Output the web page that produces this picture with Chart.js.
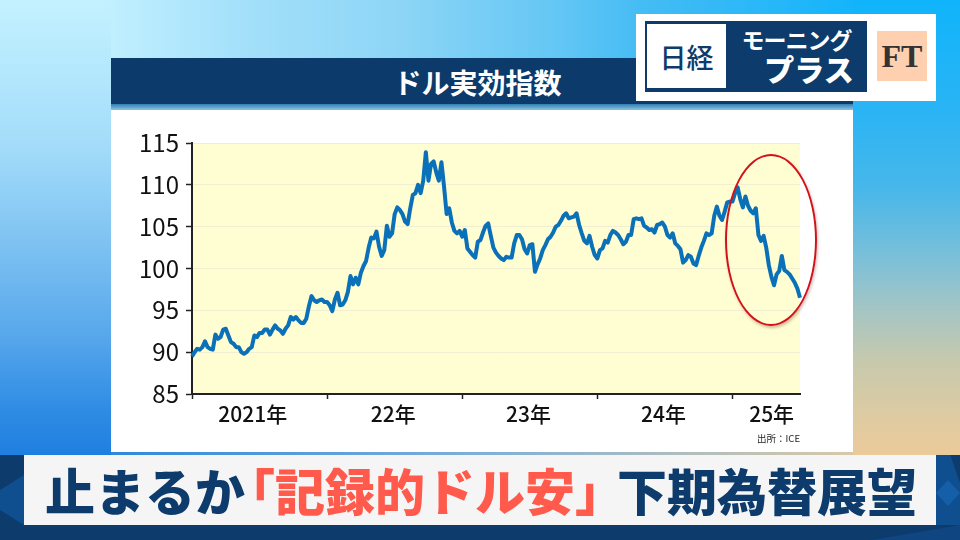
<!DOCTYPE html>
<html lang="ja"><head><meta charset="utf-8">
<script src="https://cdn.jsdelivr.net/npm/chart.js@4"></script>
<style>
html,body{margin:0;padding:0;width:960px;height:540px;overflow:hidden}
body{position:relative;font-family:"Noto Sans CJK JP",sans-serif;background:#2ab4f5}
.a{position:absolute}
#bgL{left:0;top:0;width:111px;height:456px;background:linear-gradient(180deg,#c4f1ff 0,#b4e8fd 70px,#a2dbf9 150px,#7fc3f2 240px,#5aa9ec 330px,#2f8ce4 410px,#1f7fdf 456px)}
#bgT{left:111px;top:0;width:742px;height:110px;background:linear-gradient(90deg,#c0efff 0,#a4e0fa 130px,#8dd5f6 290px,#62c6f4 450px,#45bcf4 530px,#14b4fb 742px)}
#bgR{left:853px;top:0;width:107px;height:456px;background:linear-gradient(180deg,#10b4fb 0,#2ab4f5 110px,#48b7e9 190px,#7dc0d8 260px,#a5c5c4 310px,#c6c9ad 360px,#dbcba3 410px,#ecca9a 456px)}
#bgB{left:111px;top:452px;width:742px;height:4px;background:linear-gradient(90deg,#2f88dc 0,#7fb0d8 50%,#d8c8a8 100%)}
#band{left:111px;top:58px;width:742px;height:46px;background:#0b3a6b}
#stripe{left:111px;top:104px;width:742px;height:6px;background:linear-gradient(180deg,#2f7fb3,#8ec3e0)}
#title{left:111px;top:58px;width:733px;height:48px;line-height:48px;text-align:center;color:#fff;font-weight:700;font-size:28px}
#panel{left:111px;top:110px;width:742px;height:342px;background:#fff}
#chart{position:absolute;left:0;top:0}
#src{right:160px;top:431px;font-size:9.5px;color:#222;position:absolute}
#ring{left:725px;top:154px;width:88px;height:168px;border:2.5px solid #d2121a;border-radius:50%;box-shadow:1px 2px 3px rgba(120,60,60,.35)}
#logo{left:636px;top:14px;width:300px;height:87px;background:#fff}
#navy{left:645px;top:21px;width:222px;height:71px;background:#0c3b6c}
#nik{left:647px;top:24px;width:79px;height:64px;background:#fff;color:#0c3b6c;font-size:27px;font-weight:500;text-align:center;line-height:66px}
#mor{left:726px;top:24px;width:141px;text-align:center;color:#fff;font-weight:700;font-size:23px;line-height:30px;letter-spacing:-1px}
#pla{left:736px;top:48px;width:146px;text-align:center;color:#fff;font-weight:900;font-size:30px;line-height:40px}
#ft{left:877px;top:31px;width:50px;height:50px;background:#ffd0af;color:#333;font:700 32px/50px "Liberation Serif",serif;text-align:center}
#foot{left:0;top:455px;width:960px;height:85px;background:#0c3b6c;overflow:hidden}
.f{position:absolute}
#bar{left:24px;top:455px;width:912px;height:70px;background:#f5f5f5}
.big{position:absolute;top:455px;font-size:50px;font-weight:900;line-height:68px;white-space:nowrap;color:#0c3b6c}
.red{color:#ff5a4b}
</style></head><body>
<div class="a" id="bgL"></div><div class="a" id="bgR"></div><div class="a" id="bgT"></div><div class="a" id="bgB"></div>
<div class="a" id="band"></div><div class="a" id="stripe"></div><div class="a" id="title">ドル実効指数</div>
<div class="a" id="panel"><canvas id="chart" width="742" height="342"></canvas></div>
<div id="src">出所：ICE</div>
<div class="a" id="ring"></div>
<div class="a" id="logo"></div><div class="a" id="navy"></div>
<div class="a" id="nik">日経</div><div class="a" id="mor">モーニング</div><div class="a" id="pla">プラス</div>
<div class="a" id="ft">FT</div>
<div class="a" id="foot">
 <div class="f" style="left:0;top:20px;width:24px;height:50px;background:#0f4f8f;clip-path:polygon(0 30%,100% 0,100% 100%,0 70%)"></div>
 <div class="f" style="left:936px;top:0;width:24px;height:70px;background:#0f4f90;clip-path:polygon(0 0,60% 0,100% 40%,100% 100%,0 100%)"></div>
 <div class="f" style="left:936px;top:25px;width:24px;height:26px;background:#145fa8;clip-path:polygon(50% 0,100% 50%,50% 100%,0 50%)"></div>
 <div class="f" style="left:850px;top:70px;width:110px;height:15px;background:#0f4682;clip-path:polygon(20% 100%,100% 0,100% 100%)"></div>
</div>
<div class="a" id="bar"></div>
<span class="big" style="left:45px">止まるか</span>
<span class="big red" style="left:225px">「記録的ドル安」</span>
<span class="big" style="left:617px">下期為替展望</span>
<script>
const values2021=[89.5,90.0,90.4,90.3,90.6,91.3,90.6,90.4,90.3,92.1,91.6,91.8,92.7,92.8,92.0,91.2,91.0,90.6,90.6,90.0,89.8,90.0,90.4,90.6,92.0,91.8,92.3,92.3,92.7,92.7,92.1,92.7,93.2,92.8,92.6,92.2,92.8,93.2,94.2,93.9,94.2,93.8,93.5,93.5,94.0,95.5,96.7,96.2,96.0,96.2,96.3,96.0];
const values2022=[96.0,95.6,94.9,96.3,97.1,95.6,95.7,96.2,97.2,99.1,98.1,98.9,98.1,99.5,100.3,100.9,102.5,103.7,103.6,104.4,102.6,101.5,102.2,105.1,103.8,104.2,106.5,107.3,107.0,106.5,105.6,105.3,107.2,108.8,109.0,110.0,109.0,110.5,113.9,110.5,112.5,112.8,111.5,110.5,112.7,109.8,106.5,107.2,105.5,104.5,104.2,104.5];
const values2023=[103.8,104.6,102.4,102.0,101.6,101.3,103.2,103.4,104.3,105.1,105.4,103.9,102.5,101.9,101.5,101.2,101.0,101.4,101.3,101.3,103.0,104.0,104.0,103.5,102.3,101.8,102.8,102.9,99.6,100.5,101.2,102.2,102.8,103.5,103.8,104.3,105.0,105.2,105.7,106.3,106.6,106.0,106.1,106.2,106.6,105.2,104.2,103.3,103.0,103.9,102.6,101.6];
const values2024=[101.2,102.2,102.4,103.3,103.1,104.0,104.5,104.3,104.0,103.5,102.9,103.2,104.0,104.0,105.9,106.0,105.9,106.0,105.1,104.9,104.6,104.7,104.3,105.2,105.3,105.5,105.0,104.0,103.7,104.2,103.0,102.7,102.3,100.7,101.0,101.6,101.4,100.6,100.4,101.5,102.5,103.3,104.2,104.0,104.2,106.3,107.4,106.3,105.8,106.8,107.9,108.0];
const values2025=[108.0,109.0,109.7,108.3,107.3,108.6,107.5,106.9,106.6,107.2,104.0,103.3,103.9,102.5,100.4,99.0,98.0,99.3,99.7,101.5,99.8,99.6,99.3,98.8,98.3,97.6,96.5];
const series=[[2021,values2021],[2022,values2022],[2023,values2023],[2024,values2024],[2025,values2025]];
const yearTicks=[2021,2022,2023,2024,2025];
const yearLabels=['2021年','22年','23年','24年','25年'];
const labelAt=[2021.45,2022.49,2023.49,2024.49,2025.29];
const points=[];
series.forEach(([yr,vals])=>vals.forEach((v,i)=>points.push({x:yr+i/52,y:v})));
const FF='"Noto Sans CJK JP",sans-serif';
const plotBg={id:'plotBg',beforeDraw(c){const a=c.chartArea,g=c.ctx;g.save();g.fillStyle='#fffdd2';g.fillRect(a.left,a.top,a.width,a.height);g.restore();}};
new Chart(document.getElementById('chart'),{
 type:'line',
 data:{datasets:[{data:points,borderColor:'#0a70b8',borderWidth:4,pointRadius:0,tension:0,borderJoinStyle:'round',clip:false}]},
 plugins:[plotBg],
 options:{responsive:false,animation:false,devicePixelRatio:1,
  layout:{padding:{left:0,right:53,top:33,bottom:0}},
  plugins:{legend:{display:false},tooltip:{enabled:false}},
  scales:{
   x:{type:'linear',min:2021,max:2025.5,
    afterBuildTicks(s){s.ticks=[...yearTicks,...labelAt].sort((a,b)=>a-b).map(v=>({value:v}));},
    afterFit(s){s.height=58;},
    border:{color:'#222',width:2},
    grid:{drawOnChartArea:false,drawTicks:true,tickLength:5,tickWidth:1.5,
      tickColor:c=>yearTicks.includes(c.tick&&c.tick.value)?'#222':'rgba(0,0,0,0)'},
    ticks:{autoSkip:false,maxRotation:0,minRotation:0,padding:2,color:'#111',font:{family:FF,size:21,weight:500},
      callback:v=>{const i=labelAt.indexOf(v);return i<0?'':yearLabels[i];}}
   },
   y:{min:85,max:115,
    afterFit(s){s.width=81;},
    border:{color:'#222',width:2},
    grid:{color:'#f2eed2',lineWidth:1,tickColor:'#222',tickLength:6,tickWidth:1.5},
    ticks:{stepSize:5,padding:7,color:'#111',font:{family:FF,size:24}}
   }
  }
 }
});
</script>
</body></html>
